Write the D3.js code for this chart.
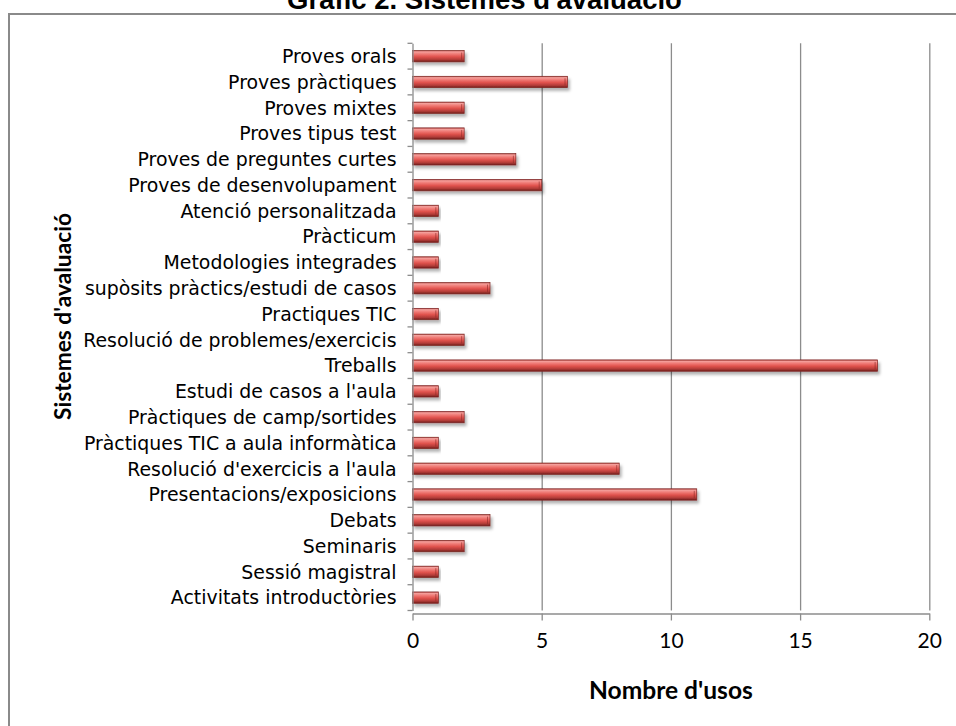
<!DOCTYPE html>
<html>
<head>
<meta charset="utf-8">
<script src="https://cdn.jsdelivr.net/npm/d3@7"></script>
<style>
  html, body { margin: 0; padding: 0; background: #fff; }
  svg { display: block; }
</style>
</head>
<body>
<svg id="chart" width="956" height="726"></svg>
<script>
const categories = [
  "Proves orals",
  "Proves pràctiques",
  "Proves mixtes",
  "Proves tipus test",
  "Proves de preguntes curtes",
  "Proves de desenvolupament",
  "Atenció personalitzada",
  "Pràcticum",
  "Metodologies integrades",
  "supòsits pràctics/estudi de casos",
  "Practiques TIC",
  "Resolució de problemes/exercicis",
  "Treballs",
  "Estudi de casos a l'aula",
  "Pràctiques de camp/sortides",
  "Pràctiques TIC a aula informàtica",
  "Resolució d'exercicis a l'aula",
  "Presentacions/exposicions",
  "Debats",
  "Seminaris",
  "Sessió magistral",
  "Activitats introductòries"
];
const values = [2, 6, 2, 2, 4, 5, 1, 1, 1, 3, 1, 2, 18, 1, 2, 1, 8, 11, 3, 2, 1, 1];
const xTicks = [0, 5, 10, 15, 20];
const titleText = "Gràfic 2. Sistemes d'avaluació";
const xTitle = "Nombre d'usos";
const yTitle = "Sistemes d'avaluació";

const svg = d3.select("#chart");
const pLeft = 412.5, pRight = 929.3, pTop = 43.3, pBottom = 610.5;

// outer frame
svg.append("rect")
  .attr("x", 9).attr("y", 14).attr("width", 1000).attr("height", 800)
  .attr("fill", "#fff").attr("stroke", "#8a8a8a").attr("stroke-width", 2);

// fit text helper
function fitText(sel, target) {
  const w = sel.node().getComputedTextLength();
  const fs = parseFloat(sel.attr("font-size"));
  sel.attr("font-size", fs * target / w);
}

// title (partially cut off at the top, as in the source image)
const t = svg.append("text")
  .attr("x", 484.5).attr("y", 9)
  .attr("text-anchor", "middle")
  .attr("font-family", "Liberation Sans, Arial, sans-serif")
  .attr("font-weight", "bold")
  .attr("font-size", 20)
  .attr("fill", "#000")
  .text(titleText);
fitText(t, 395);

const x = d3.scaleLinear().domain([0, 20]).range([pLeft, pRight]);
const y = d3.scaleBand().domain(categories).range([pTop, pBottom])
  .paddingInner(0.56).paddingOuter(0.28);

const defs = svg.append("defs");
const grad = defs.append("linearGradient")
  .attr("id", "barGrad").attr("x1", 0).attr("y1", 0).attr("x2", 0).attr("y2", 1);
[
  [0, "#b54541"], [0.12, "#f4a09c"], [0.3, "#f07c77"], [0.55, "#e0524d"],
  [0.8, "#b23c38"], [1, "#6f1c1a"]
].forEach(([o, c]) => grad.append("stop").attr("offset", o).attr("stop-color", c));

const shadow = defs.append("filter").attr("id", "shadow")
  .attr("x", "-5%").attr("y", "-50%").attr("width", "115%").attr("height", "250%");
shadow.append("feDropShadow").attr("dx", 2).attr("dy", 3)
  .attr("stdDeviation", 1.6).attr("flood-color", "#000").attr("flood-opacity", 0.3);

// gridlines
svg.append("g")
  .attr("transform", `translate(0,${pBottom})`)
  .call(d3.axisBottom(x).tickValues(xTicks.slice(1)).tickSize(-(pBottom - pTop)).tickFormat(""))
  .call(g => g.select(".domain").remove())
  .call(g => g.selectAll(".tick line").attr("stroke", "#8c8c8c").attr("stroke-width", 1.3));

// bars
const rows = categories.map((c, i) => ({ c, v: values[i] }));
const bars = svg.append("g");
bars.selectAll("rect")
  .data(rows)
  .join("rect")
  .attr("x", x(0))
  .attr("y", d => y(d.c))
  .attr("width", d => x(d.v) - x(0))
  .attr("height", y.bandwidth())
  .attr("fill", "url(#barGrad)")
  .attr("stroke", "#7c2523")
  .attr("stroke-width", 0.7)
  .attr("filter", "url(#shadow)");

// right end bevel
bars.selectAll("line.bevel")
  .data(rows)
  .join("line")
  .attr("class", "bevel")
  .attr("x1", d => x(d.v) - 2.5).attr("x2", d => x(d.v) - 2.5)
  .attr("y1", d => y(d.c) + 2).attr("y2", d => y(d.c) + y.bandwidth() - 2)
  .attr("stroke", "#8a2a27").attr("stroke-width", 1).attr("opacity", 0.6);

// y axis with labels
const yAxis = svg.append("g")
  .attr("transform", `translate(${pLeft},0)`)
  .call(d3.axisLeft(y).tickSize(0).tickPadding(16));
yAxis.select(".domain").attr("stroke", "#8c8c8c").attr("stroke-width", 1.3);
yAxis.selectAll(".tick text")
  .attr("font-family", "DejaVu Sans, Verdana, sans-serif")
  .attr("font-size", 18.9)
  .attr("fill", "#000")
  .attr("dy", "0.36em");

// category boundary ticks
svg.append("g").selectAll("line")
  .data(d3.range(categories.length + 1))
  .join("line")
  .attr("x1", pLeft - 5).attr("x2", pLeft)
  .attr("y1", i => pTop + i * y.step()).attr("y2", i => pTop + i * y.step())
  .attr("stroke", "#8c8c8c").attr("stroke-width", 1.3);

// x axis
const xAxis = svg.append("g")
  .attr("transform", `translate(0,${pBottom + 3})`)
  .call(d3.axisBottom(x).tickValues(xTicks).tickSize(7).tickPadding(13).tickSizeOuter(0));
xAxis.select(".domain").attr("stroke", "#8c8c8c").attr("stroke-width", 1.3);
xAxis.selectAll(".tick line").attr("stroke", "#8c8c8c").attr("stroke-width", 1.3);
xAxis.selectAll(".tick text")
  .attr("font-family", "Lato, Open Sans, sans-serif")
  .attr("font-size", 21)
  .attr("fill", "#000");

// x axis title
const xt = svg.append("text")
  .attr("x", (pLeft + pRight) / 2).attr("y", 699)
  .attr("text-anchor", "middle")
  .attr("font-family", "Lato, Open Sans, sans-serif")
  .attr("font-weight", "bold")
  .attr("font-size", 22)
  .attr("fill", "#000")
  .text(xTitle);
fitText(xt, 164);

// y axis title
const yt = svg.append("text")
  .attr("transform", "translate(71,316.5) rotate(-90)")
  .attr("text-anchor", "middle")
  .attr("font-family", "Lato, Open Sans, sans-serif")
  .attr("font-weight", "bold")
  .attr("font-size", 22)
  .attr("fill", "#000")
  .text(yTitle);
fitText(yt, 207);
</script>
</body>
</html>
